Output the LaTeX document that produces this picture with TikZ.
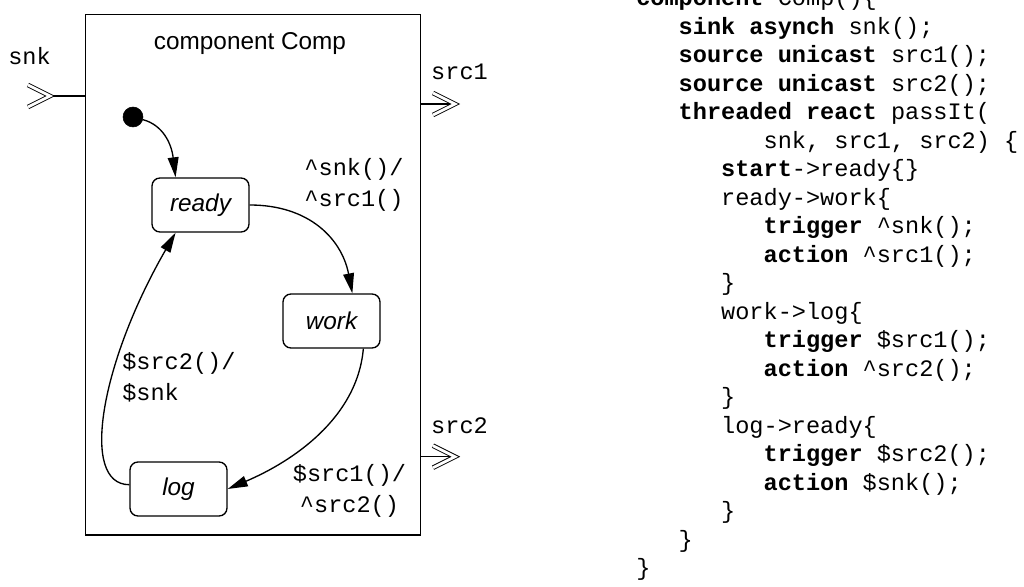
\documentclass[tikz,border=0pt]{standalone}
\usepackage{fontspec}
\setsansfont{Liberation Sans}
\setmonofont{Liberation Mono}
\usetikzlibrary{positioning,arrows.meta}
\newcommand{\kw}[1]{\textbf{#1}}
\newcommand{\caret}{\textasciicircum}
\newcommand{\ind}[1]{\hspace*{#1\dimexpr0.6em\relax}}
\tikzset{%
frame/.style={draw,rectangle,line width=1pt,minimum width=8.375cm,minimum height=13cm,inner sep=0},
state/.style={draw,rectangle,rounded corners=0.2cm,line width=0.95pt,minimum width=2.425cm,minimum height=1.35cm,font=\sffamily\itshape\fontsize{17.3}{20}\selectfont},
initial/.style={draw,fill,circle,minimum size=0.5cm,inner sep=0},
trans/.style={line width=0.95pt,-{Triangle[length=0.5cm,width=0.27cm]}},
port/.style={double,double distance=2pt,line width=0.65pt},
portline/.style={line width=0.95pt},
title/.style={font=\sffamily\fontsize{17.3}{20}\selectfont,inner sep=0},
portlabel/.style={font=\ttfamily\fontsize{16.77}{20}\selectfont,inner sep=0},
guard/.style={font=\ttfamily\fontsize{16.77}{22.4}\selectfont,align=center,inner sep=0},
code/.style={font=\ttfamily\fontsize{16.77}{20.27}\selectfont,align=left,inner sep=0}
}
\newcommand{\chevron}[1]{\draw[port] (#1) ++(-22,11) -- (#1) -- ++(-22,-11);}

\begin{document}
\begin{tikzpicture}[x=0.025cm,y=0.025cm]

  \useasboundingbox (0,0) rectangle (1024,586);

  % component with its ports
  \node[frame] (comp) at (253.2,311.2) {};
  \node[title,anchor=base] (ctitle) at (250,536.7) {component Comp};

  \node[portlabel,anchor=base] (snklabel) at (29.5,521) {snk};
  \node[portlabel,anchor=base] (src1label) at (459.5,506) {src1};
  \node[portlabel,anchor=base] (src2label) at (459.5,152.7) {src2};

  \coordinate (snkport) at (50,490);
  \coordinate (src1port) at (455,482);
  \coordinate (src2port) at (455,129.3);
  \draw[portline] (snkport) -- (snkport -| comp.west);
  \draw[portline] (comp.east |- src1port) -- (src1port);
  \draw[portline] (comp.east |- src2port) -- (src2port);
  \chevron{snkport}
  \chevron{src1port}
  \chevron{src2port}

  % states
  \node[initial] (init) at (133,469) {};
  \node[state] (ready) at (200.5,381) {ready};
  \node[state] (work) at (331.5,265) {work};
  \node[state] (log) at (178.5,97) {log};

  \draw[trans] (init.-15) .. controls +(-15:20) and +(97:35) .. (ready.132);
  \draw[trans] (ready.east) .. controls +(60,0) and +(101:55) .. (work.53);
  \draw[trans] (work.-41) .. controls +(-95:70) and +(23:70) .. (log.east);
  \draw[trans] (log.175) .. controls +(180:50) and +(240:150) .. (ready.-132);

  \node[guard,anchor=base] (gready) at (354,379) {\caret snk()/\\\caret src1()};
  \node[guard,anchor=base] (gwork) at (349.5,73.5) {\$src1()/\\\caret src2()};
  \node[guard,align=left,anchor=base west] (glog) at (122,185.3) {\$src2()/\\\$snk};

  % textual form
  \node[code,anchor=base west] (src) at (636,10.2) {%
    \kw{component} Comp()\{\\
    \ind{3}\kw{sink asynch} snk();\\
    \ind{3}\kw{source unicast} src1();\\
    \ind{3}\kw{source unicast} src2();\\
    \ind{3}\kw{threaded react} passIt(\\
    \ind{9}snk, src1, src2) \{\\
    \ind{6}\kw{start}->ready\{\}\\
    \ind{6}ready->work\{\\
    \ind{9}\kw{trigger} \caret snk();\\
    \ind{9}\kw{action} \caret src1();\\
    \ind{6}\}\\
    \ind{6}work->log\{\\
    \ind{9}\kw{trigger} \$src1();\\
    \ind{9}\kw{action} \caret src2();\\
    \ind{6}\}\\
    \ind{6}log->ready\{\\
    \ind{9}\kw{trigger} \$src2();\\
    \ind{9}\kw{action} \$snk();\\
    \ind{6}\}\\
    \ind{3}\}\\
    \}};

\end{tikzpicture}
\end{document}
